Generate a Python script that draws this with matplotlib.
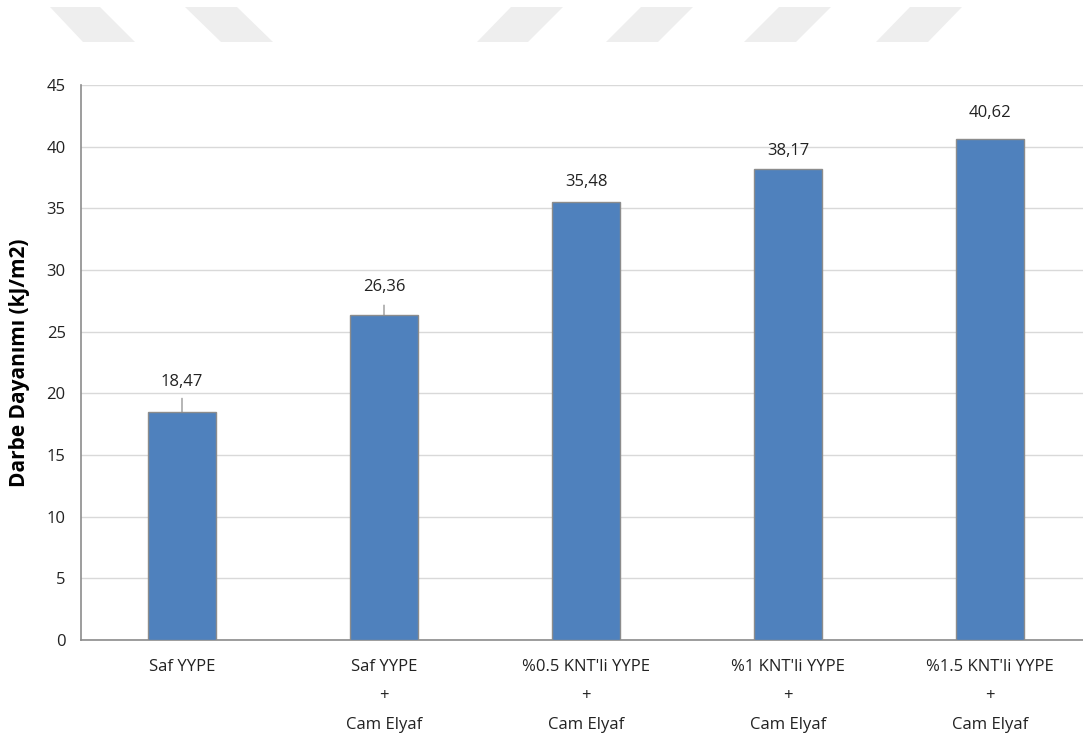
import matplotlib.pyplot as plt
from matplotlib.patches import Polygon

plt.rcParams['font.family'] = ['Open Sans', 'DejaVu Sans']

# impact strength per sample
categories = ["Saf YYPE",
              "Saf YYPE\n+\nCam Elyaf",
              "%0.5 KNT'li YYPE\n+\nCam Elyaf",
              "%1 KNT'li YYPE\n+\nCam Elyaf",
              "%1.5 KNT'li YYPE\n+\nCam Elyaf"]
values = [18.47, 26.36, 35.48, 38.17, 40.62]
value_labels = ["18,47", "26,36", "35,48", "38,17", "40,62"]
y_ticks = [0, 5, 10, 15, 20, 25, 30, 35, 40, 45]

# label centre height above each bar (points) and leader line length
label_gap = [21.5, 20, 15, 13, 18.5]
leader_len = [10, 7, 0, 0, 0]

W, H = 1083, 740
fig = plt.figure(figsize=(W / 100, H / 100), dpi=100)
ax = fig.add_axes([81 / W, 1 - 640 / H, 1 - 81 / W, (640 - 85) / H])

# light watermark strips along the top edge
strips = [((50, 100), (83, 135)), ((185, 237), (221, 273)),
          ((511, 563), (477, 528)), ((641, 693), (606, 658)),
          ((779, 831), (744, 796)), ((910, 962), (876, 928))]
y0, y1 = 7, 42
for (t0, t1), (b0, b1) in strips:
    pts = [(t0 / W, 1 - y0 / H), (t1 / W, 1 - y0 / H),
           (b1 / W, 1 - y1 / H), (b0 / W, 1 - y1 / H)]
    fig.patches.append(Polygon(pts, closed=True, transform=fig.transFigure,
                               facecolor='#eeeeee', edgecolor='none'))

x = list(range(len(values)))
ax.bar(x, values, width=0.337, color='#4f81bd', edgecolor='#8c8c8c',
       linewidth=1.0, zorder=3)

for xi, v, lab, gap, ll in zip(x, values, value_labels, label_gap, leader_len):
    ax.annotate(lab, (xi, v), xytext=(0, gap), textcoords='offset points',
                ha='center', va='center', fontsize=12, color='#222222')
    if ll:
        ax.annotate('', (xi, v), xytext=(0, ll),
                    textcoords='offset points',
                    arrowprops=dict(arrowstyle='-', color='#8c8c8c', lw=0.9,
                                    shrinkA=0, shrinkB=0))

ax.set_ylim(0, 45)
ax.set_xlim(-0.5, -0.5 + (W - 81) / 202)
ax.set_yticks(y_ticks)
ax.set_yticklabels([str(t) for t in y_ticks], fontsize=12, color='#222222')
ax.set_xticks(x)
ax.set_xticklabels(categories, fontsize=12, color='#222222', linespacing=2.05,
                   va='top')
ax.tick_params(axis='both', length=0)
ax.tick_params(axis='x', pad=14)
ax.tick_params(axis='y', pad=11)

ax.grid(axis='y', color='#d9d9d9', linewidth=1.0, zorder=0)
for s in ['top', 'right']:
    ax.spines[s].set_visible(False)
ax.spines['left'].set_color('#8c8c8c')
ax.spines['bottom'].set_color('#8c8c8c')
ax.spines['left'].set_linewidth(1.2)
ax.spines['bottom'].set_linewidth(1.2)

ax.set_ylabel("Darbe Dayanımı (kJ/m2)", fontsize=15, fontweight='bold',
              labelpad=12)

fig.savefig("out.png", dpi=100)
